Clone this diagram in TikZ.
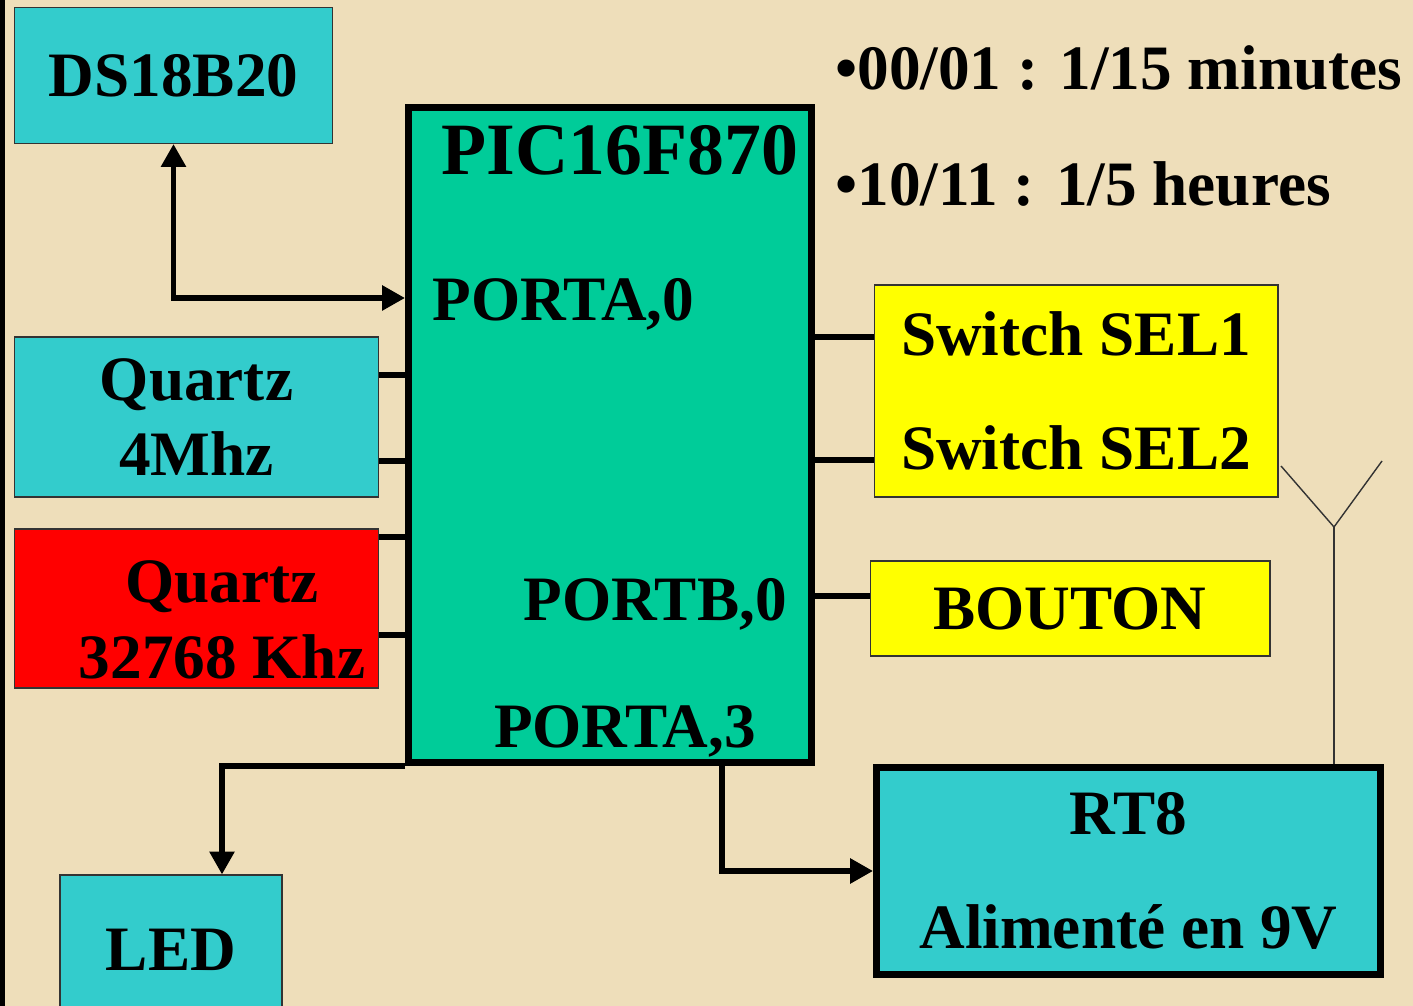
\documentclass[tikz,border=0pt]{standalone}
\usepackage{fontspec}
\setmainfont{Liberation Serif}
\usetikzlibrary{arrows.meta}

\definecolor{paper}{RGB}{238,222,186}
\definecolor{boxline}{RGB}{51,51,51}
\definecolor{cyanbox}{RGB}{51,204,204}
\definecolor{picgreen}{RGB}{0,204,153}
\definecolor{yellowbox}{RGB}{255,255,0}
\definecolor{redbox}{RGB}{255,0,0}

\begin{document}
\begin{tikzpicture}[x=0.02cm,y=-0.02cm,
  box/.style={draw=boxline,line width=0.6pt,inner sep=0pt,align=center,
    font=\fontsize{36}{43}\selectfont\bfseries},
  heavy/.style={draw=black,line width=4pt,inner sep=0pt,align=center,
    font=\fontsize{36}{43}\selectfont\bfseries},
  txt/.style={inner sep=0pt,align=center,font=\fontsize{36}{43}\selectfont\bfseries},
  wire/.style={line width=3.4pt},
  link/.style={line width=3.2pt},
  tip/.style={-{Triangle[length=13pt,width=13.6pt]}},
  ant/.style={draw=boxline,line width=0.8pt}]

  % page
  \useasboundingbox (0,0) rectangle (1413,1006);
  \fill[paper] (0,0) rectangle (1413,1006);
  \fill[black] (0,0) rectangle (5,1006);

  % microcontroller
  \node[heavy,fill=picgreen,minimum width=8.06cm,minimum height=13.1cm] (pic) at (610,435) {};
  \node[txt,font=\fontsize{42}{50}\selectfont\bfseries] (picname) at (620,150) {PIC16F870};
  \node[txt,anchor=west] (pa0) at (432,304) {PORTA,0};
  \node[txt,anchor=east] (pb0) at (787,604) {PORTB,0};
  \node[txt] (pa3) at (625,731) {PORTA,3};

  % left side
  \node[box,fill=cyanbox,minimum width=6.38cm,minimum height=2.72cm] (ds) at (173.5,75.5) {DS18B20};
  \node[box,fill=cyanbox,minimum width=7.3cm,minimum height=3.2cm] (q4) at (196.5,417) {Quartz\\4Mhz};
  \node[box,fill=redbox,minimum width=7.3cm,minimum height=3.18cm] (q32) at (196.5,608.5) {};
  \node[txt] (q32txt) at (222,620) {Quartz\\32768 Khz};
  \node[box,fill=cyanbox,minimum width=4.44cm,minimum height=3cm] (led) at (171,950) {LED};

  % right side
  \node[box,fill=yellowbox,minimum width=8.08cm,minimum height=4.24cm] (sw) at (1076,391) {Switch SEL1\\[22pt]Switch SEL2};
  \node[box,fill=yellowbox,minimum width=8cm,minimum height=1.9cm] (bt) at (1070,608.5) {BOUTON};
  \node[heavy,fill=cyanbox,minimum width=10.08cm,minimum height=4.14cm] (rt8) at (1128.5,871) {RT8\\[22pt]Alimenté en 9V};

  % modes
  \node[txt,anchor=west] (mode1) at (835,68) {\textbullet00/01 : 1/15 minutes};
  \node[txt,anchor=west] (mode2) at (835,184) {\textbullet10/11 : 1/5 heures};

  % quartz pins
  \draw[wire] (q4.east |- 0,375) -- (pic.west |- 0,375);
  \draw[wire] (q4.east |- 0,461) -- (pic.west |- 0,461);
  \draw[wire] (q32.east |- 0,537) -- (pic.west |- 0,537);
  \draw[wire] (q32.east |- 0,635) -- (pic.west |- 0,635);

  % switches and button
  \draw[wire] (pic.east |- 0,337) -- (sw.west |- 0,337);
  \draw[wire] (pic.east |- 0,460) -- (sw.west |- 0,460);
  \draw[wire] (pic.east |- 0,596) -- (bt.west |- 0,596);

  % arrows
  \draw[link,{Triangle[length=13pt,width=13.6pt]}-{Triangle[length=13pt,width=13.6pt]}]
    (ds.south) |- (pic.west |- 0,298);
  \draw[link,tip] (pic.south west) -| (led.north -| 222,0);
  \draw[link,tip] (pic.south -| 722,0) |- (rt8.west);

  % antenna
  \coordinate (afork) at (1334,527);
  \coordinate (aleft) at (1281,466);
  \coordinate (aright) at (1382,461);
  \draw[ant] (rt8.north -| afork) -- (afork);
  \draw[ant] (aleft) -- (afork) -- (aright);

\end{tikzpicture}
\end{document}
